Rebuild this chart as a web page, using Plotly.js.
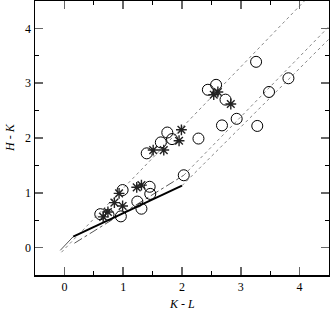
<!DOCTYPE html>
<html>
<head>
<meta charset="utf-8">
<script src="https://cdn.plot.ly/plotly-3.0.1.min.js"></script>
<style>html,body{margin:0;padding:0;background:#fff}#chart{width:330px;height:310px}</style>
</head>
<body>
<div id="chart"></div>
<script>
// Open circles (K-L, H-K)
const circleKL = [0.61, 0.75, 0.96, 0.99, 1.24, 1.31, 1.45, 1.46, 1.40, 1.64, 1.75, 1.83, 2.03, 2.28, 2.44, 2.58, 2.74, 2.68, 2.93, 3.28, 3.26, 3.48, 3.81];
const circleHK = [0.61, 0.60, 0.57, 1.05, 0.84, 0.71, 1.11, 0.98, 1.72, 1.92, 2.10, 1.98, 1.32, 1.99, 2.88, 2.97, 2.70, 2.23, 2.35, 2.22, 3.39, 2.84, 3.09];
// Asterisks
const starKL = [0.66, 0.74, 0.85, 0.99, 0.93, 1.23, 1.31, 1.51, 1.69, 1.95, 1.99, 2.54, 2.61, 2.83];
const starHK = [0.56, 0.65, 0.82, 0.76, 0.99, 1.10, 1.14, 1.78, 1.78, 1.95, 2.15, 2.79, 2.84, 2.62];
// Loci and reddening lines
const dwarfKL = [-0.07, 0.15];
const dwarfHK = [-0.05, 0.20];
const solidKL = [0.15, 2.00];
const solidHK = [0.20, 1.13];
const dashdotKL = [0.17, 2.03];
const dashdotHK = [0.08, 1.32];
const redUpperKL = [-0.05, 4.10];
const redUpperHK = [-0.085, 4.52];
const redMidKL = [2.03, 4.55];
const redMidHK = [1.32, 4.09];
const redLowKL = [2.00, 4.55];
const redLowHK = [1.13, 3.86];
const xTicks = [0, 1, 2, 3, 4];
const yTicks = [0, 1, 2, 3, 4];

const dotLine = {color: '#888', width: 1, dash: 'dot'};
const traces = [
  {x: redUpperKL, y: redUpperHK, mode: 'lines', line: dotLine},
  {x: redMidKL, y: redMidHK, mode: 'lines', line: dotLine},
  {x: redLowKL, y: redLowHK, mode: 'lines', line: dotLine},
  {x: dashdotKL, y: dashdotHK, mode: 'lines', line: {color: '#555', width: 1, dash: 'dashdot'}},
  {x: dwarfKL, y: dwarfHK, mode: 'lines', line: {color: '#555', width: 1}},
  {x: solidKL, y: solidHK, mode: 'lines', line: {color: '#000', width: 2}},
  {x: circleKL, y: circleHK, mode: 'markers', marker: {symbol: 'circle-open', size: 11, color: '#000', line: {width: 1, color: '#000'}}},
  {x: starKL, y: starHK, mode: 'markers', marker: {symbol: 'asterisk-open', size: 9, color: '#222', line: {width: 1.4, color: '#222'}}}
];

const tickFont = {family: 'Liberation Serif, Times New Roman, serif', size: 12, color: '#000'};
const titleFont = {family: 'Liberation Serif, Times New Roman, serif', size: 12, color: '#000', style: 'italic'};
const axisCommon = {
  showgrid: false, zeroline: false, showline: true, linecolor: '#000', linewidth: 1.5,
  mirror: 'ticks', ticks: 'inside', ticklen: 8, tickwidth: 1.5, tickcolor: '#666',
  tickfont: tickFont, automargin: false,
  minor: {dtick: 0.5, ticks: 'inside', ticklen: 4, tickwidth: 1, tickcolor: '#000'}
};
const layout = {
  width: 330, height: 310,
  margin: {l: 35, r: 1, t: 1, b: 35},
  paper_bgcolor: '#fff', plot_bgcolor: '#fff',
  showlegend: false,
  xaxis: Object.assign({}, axisCommon, {
    range: [-0.5, 4.5], tickvals: xTicks, ticktext: xTicks.map(String)
  }),
  yaxis: Object.assign({}, axisCommon, {
    range: [-0.5, 4.5], tickvals: yTicks, ticktext: yTicks.map(String)
  }),
  annotations: [
    {text: 'K - L', xref: 'paper', yref: 'paper', x: 0.5, y: 0, yshift: -29, xanchor: 'center', yanchor: 'middle', showarrow: false, font: titleFont},
    {text: 'H - K', xref: 'paper', yref: 'paper', x: 0, y: 0.5, xshift: -25, xanchor: 'center', yanchor: 'middle', textangle: -90, showarrow: false, font: titleFont}
  ]
};
Plotly.newPlot('chart', traces, layout, {displayModeBar: false, staticPlot: true});
</script>
</body>
</html>
